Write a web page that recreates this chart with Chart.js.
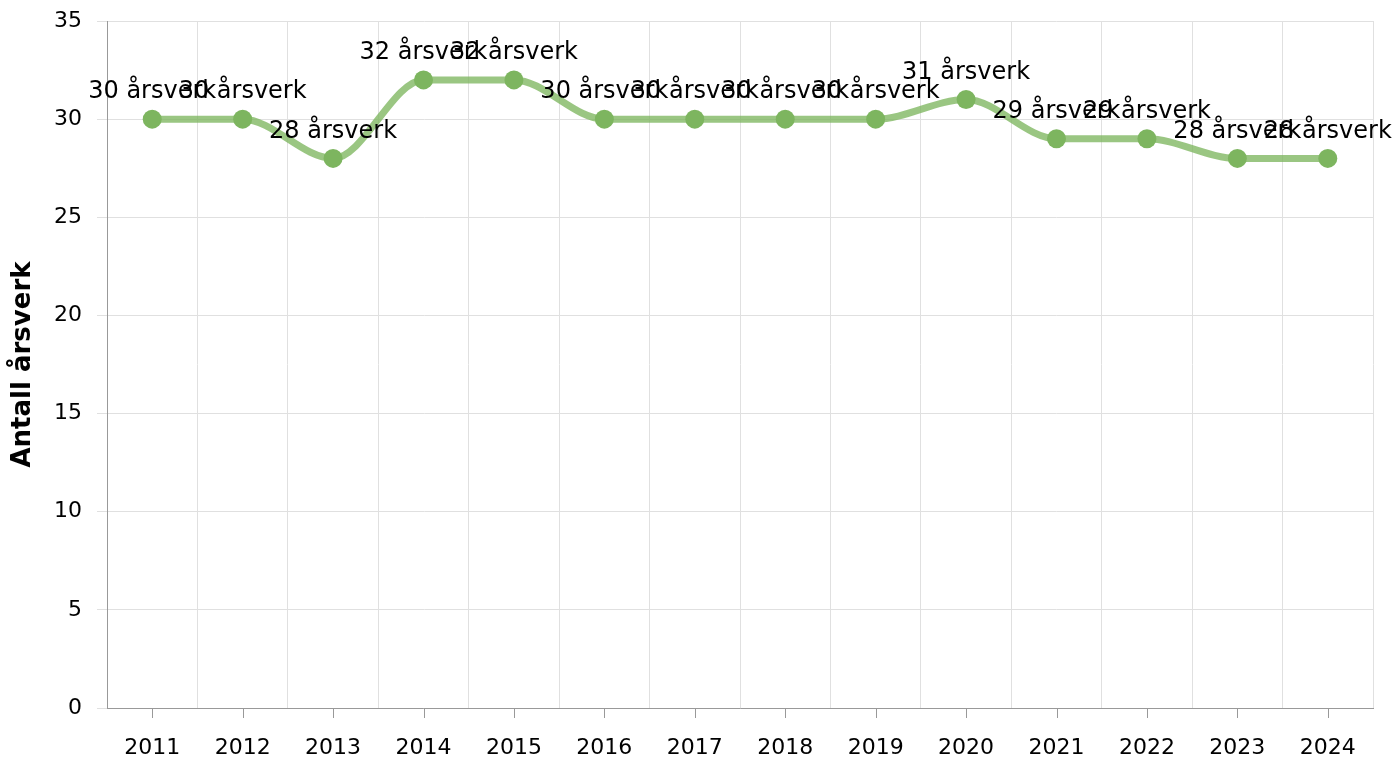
<!DOCTYPE html>
<html>
<head>
<meta charset="utf-8">
<script src="https://cdn.jsdelivr.net/npm/chart.js@4/dist/chart.umd.min.js"></script>
<style>
  html, body { margin: 0; padding: 0; background: #fff; }
  #wrap { width: 1392px; height: 762px; }
</style>
</head>
<body>
<div id="wrap"><canvas id="chart" width="1392" height="762"></canvas></div>
<script>
const years = ["2011", "2012", "2013", "2014", "2015", "2016", "2017", "2018", "2019", "2020", "2021", "2022", "2023", "2024"];
const arsverk = [30, 30, 28, 32, 32, 30, 30, 30, 30, 31, 29, 29, 28, 28];
const yTicks = [0, 5, 10, 15, 20, 25, 30, 35];
const unit = "årsverk";

const tickFont = "'DejaVu Sans', Verdana, sans-serif";

// labels above each point
const pointLabels = {
  id: 'pointLabels',
  afterDatasetsDraw(chart) {
    const ctx = chart.ctx;
    const meta = chart.getDatasetMeta(0);
    ctx.save();
    ctx.font = `24px ${tickFont}`;
    ctx.fillStyle = '#000';
    ctx.textAlign = 'center';
    ctx.textBaseline = 'middle';
    meta.data.forEach((pt, i) => {
      ctx.fillText(`${arsverk[i]} ${unit}`, pt.x, pt.y - 27);
    });
    ctx.restore();
  }
};

// small tick marks under the x axis at each category centre
const xTickMarks = {
  id: 'xTickMarks',
  afterDraw(chart) {
    const ctx = chart.ctx;
    const xScale = chart.scales.x;
    ctx.save();
    ctx.strokeStyle = '#999';
    ctx.lineWidth = 1;
    years.forEach((y, i) => {
      const px = Math.round(xScale.getPixelForValue(i)) + 0.5;
      ctx.beginPath();
      ctx.moveTo(px, xScale.top);
      ctx.lineTo(px, xScale.top + 10);
      ctx.stroke();
    });
    ctx.restore();
  }
};

const config = {
  type: 'line',
  data: {
    labels: years,
    datasets: [{
      data: arsverk,
      borderColor: 'rgba(125, 182, 95, 0.78)',
      borderWidth: 7,
      cubicInterpolationMode: 'monotone',
      fill: false,
      pointRadius: 9.5,
      pointHoverRadius: 9.5,
      pointBackgroundColor: '#7DB55F',
      pointBorderColor: '#7DB55F',
      pointBorderWidth: 0
    }]
  },
  options: {
    responsive: false,
    animation: false,
    events: [],
    layout: { padding: { top: 21, right: 19, left: 0, bottom: 0 } },
    plugins: {
      legend: { display: false },
      tooltip: { enabled: false }
    },
    scales: {
      x: {
        offset: true,
        grid: { offset: true, color: '#e0e0e0', drawTicks: false },
        border: { color: '#999' },
        ticks: { color: '#000', font: { size: 22, family: tickFont }, padding: 27, maxRotation: 0 },
        afterFit: (scale) => { scale.height = 54; }
      },
      y: {
        min: 0,
        max: 35,
        afterBuildTicks: (scale) => { scale.ticks = yTicks.map(v => ({ value: v })); },
        grid: { color: '#e0e0e0', tickLength: 10 },
        border: { color: '#999' },
        ticks: { color: '#000', font: { size: 22, family: tickFont }, padding: 15 },
        title: {
          display: true,
          text: 'Antall årsverk',
          color: '#000',
          font: { size: 26, weight: 'bold', family: "'DejaVu Sans', Verdana, sans-serif" },
          padding: { top: 8, bottom: 0 }
        },
        afterFit: (scale) => {
          scale.width = 107;
          scale.paddingTop = 21;
        }
      }
    }
  },
  plugins: [pointLabels, xTickMarks]
};

new Chart(document.getElementById('chart'), config);
</script>
</body>
</html>
